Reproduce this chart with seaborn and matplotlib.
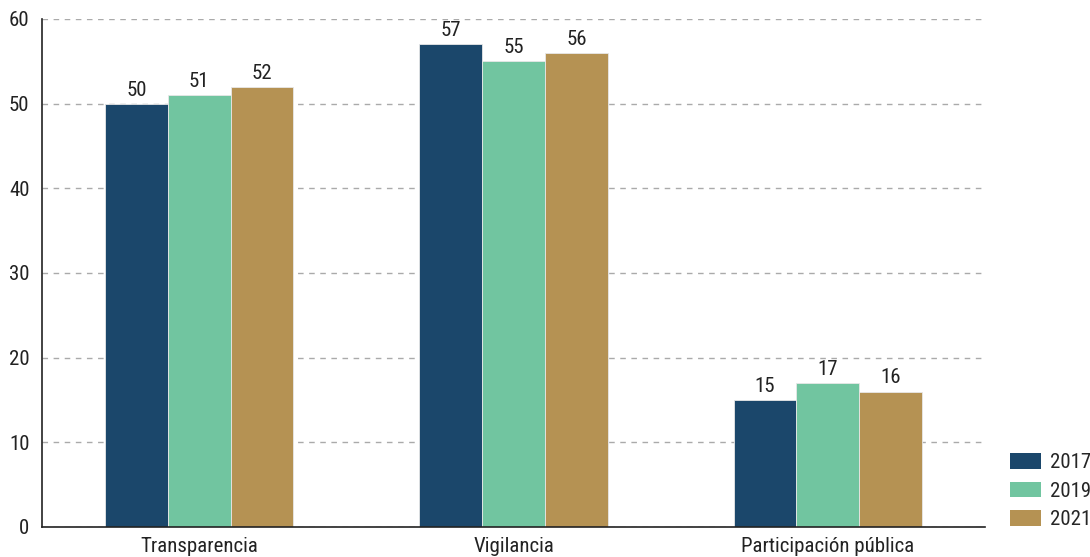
import matplotlib
matplotlib.use("Agg")
import matplotlib.pyplot as plt
import seaborn as sns
import pandas as pd
from matplotlib.patches import Patch
from matplotlib import font_manager

categories = ["Transparencia", "Vigilancia", "Participación pública"]
years = ["2017", "2019", "2021"]
values_2017 = [50, 57, 15]
values_2019 = [51, 55, 17]
values_2021 = [52, 56, 16]
colors = ["#1b476b", "#71c5a0", "#b59253"]

sns.set_theme(style="white")
names = {f.name for f in font_manager.fontManager.ttflist}
fam = [f for f in ["Roboto Condensed", "Liberation Sans Narrow", "Roboto", "DejaVu Sans"] if f in names]
plt.rcParams['font.family'] = fam

FS = 15

df = pd.DataFrame({
    "cat": categories * 3,
    "year": [y for y in years for _ in categories],
    "val": values_2017 + values_2019 + values_2021,
})

fig = plt.figure(figsize=(10.9, 5.57), dpi=100)
ax = fig.add_axes([42/1090, 30/557, (985-42)/1090, (527-19)/557])
sns.barplot(data=df, x="cat", y="val", hue="year", palette=colors, width=0.6,
            gap=0, ax=ax, legend=False, edgecolor="#e8e8e8", linewidth=0.6,
            saturation=1)

for c in ax.containers:
    ax.bar_label(c, fmt="%d", fontsize=FS, padding=3, color="#222222")

ax.set_xlim(-0.5, 2.5)
ax.set_ylim(0, 60)
ax.set_yticks(range(0, 61, 10))
ax.set_xlabel("")
ax.set_ylabel("")
ax.set_xticks([0, 1, 2])
ax.set_xticklabels(categories, fontsize=FS, color="#222222")
ax.set_xticks([-0.5, 0.5, 1.5, 2.5], minor=True)
ax.tick_params(axis="x", which="major", length=0, pad=7)
ax.tick_params(axis="x", which="minor", length=6, width=1, color="#333333", direction="out")
ax.tick_params(axis="y", length=6, width=1, color="#333333", direction="out", labelsize=FS,
               labelcolor="#222222", pad=3)
for s in ["top", "right"]:
    ax.spines[s].set_visible(False)
for s in ["left", "bottom"]:
    ax.spines[s].set_color("#222222")
    ax.spines[s].set_linewidth(1.2)
ax.yaxis.grid(True, linestyle=(0, (4, 4)), color="#aaaaaa", linewidth=1)
ax.set_axisbelow(True)

handles = [Patch(facecolor=c, edgecolor="none") for c in colors]
fig.legend(handles, years, loc="lower left", bbox_to_anchor=(1010/1090, 28/557),
           frameon=False, fontsize=FS, handlelength=1.5, handleheight=0.77,
           labelspacing=0.45, handletextpad=0.4, borderaxespad=0, borderpad=0)

fig.savefig("out.png", dpi=100)
